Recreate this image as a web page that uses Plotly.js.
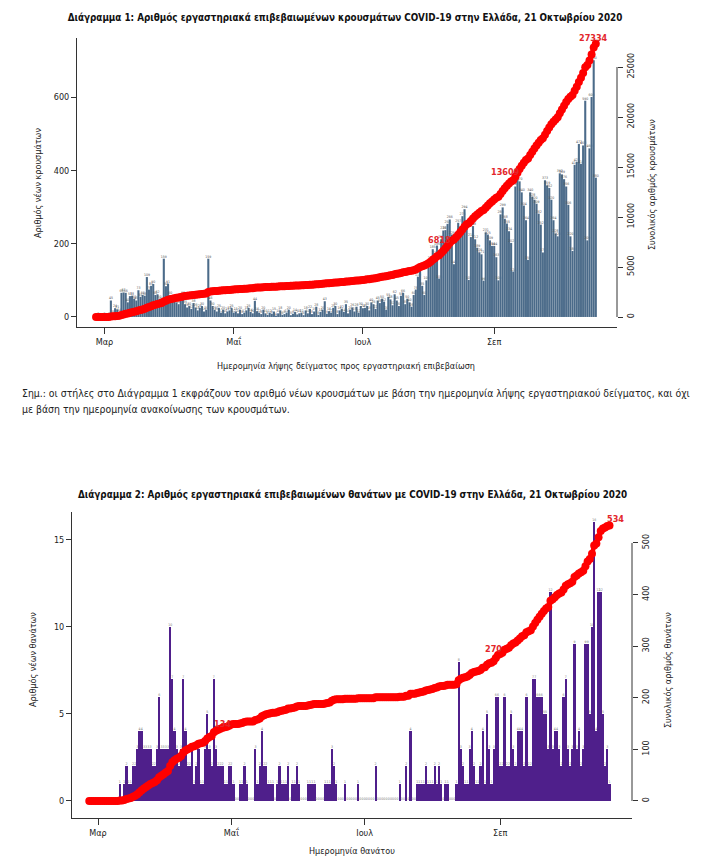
<!DOCTYPE html>
<html>
<head>
<meta charset="utf-8">
<script src="https://cdn.plot.ly/plotly-3.0.1.min.js"></script>
<style>
html,body{margin:0;padding:0;background:#fff;}
#chart{width:723px;height:867px;}
</style>
</head>
<body>
<div id="chart"></div>
<script>
// ---------------- DATA ----------------
// Daily values start on 26 Feb 2020 (one value per day)
const startDay = '2020-02-26';

// Diagram 1: new laboratory-confirmed cases by sample date (26 Feb – 19 Oct)
const newCases = [
  1,2,1,0,2,1,3, 45, 8,24,21,14, 66,67,66,40,57,58, 50,45,73,55,60,58, 109,75, 85,90,60,62,50,44, 159,84,91,60,
  50,42,40,35,45,60,35,26,30,22,38,26,18,25,30,15,20, 159, 45,30,20,15,25,12,20,10,15,18,25,12,
  15,10,20,8,12,18,25,14,10,44,16,12,8,20,10,6,12,9,15,4,10,18,6,8,12,20,5,9,14,7,10,
  12,5,18,10,22,8,15,28,6,14,20,43,9,16,12,25,30,8,18,22,14,35,10,20,26,15,28,12,30,24,
  25,30,18,40,35,22,45,38,50,42,20,55,48,32,62,45,30,58,66,35,50,40,28,60,75,110,126,85,60,100,
  135,155,185,170,195,105,212,236,237,254,266,225,144,212,257,236,275,294,252,101,218,248,212,189,176,171,99,231,225,209,194,
  194,163,100,280,299,268,255,234,202,124,356,389,370,340,304,264,156,340,328,320,309,282,252,176,373,359,352,320,264,228,
  220,392,389,376,356,306,220,180,415,423,472,418,468,590,209,460,600,700,380
];

// Diagram 2: new laboratory-confirmed deaths by date of death (26 Feb – 21 Oct)
const newDeaths = [
  0,0,0,0,0,0,0,0,0,0,0,0,0,0,
  1,0,1,2,1,1,2,2,3,
  4,4,3,3,3,3,2,2,3,
  6,3,3,3,
  3,10,7,4,3,2,3,7,4,2,2,3,1,2,3,1,1,3,5,3,2,
  7,
  3,2,2,2,1,1,2,2,1,0,0,1,1,2,1,0,0,0,3,
  1,2,4,2,2,1,1,1,0,1, 2,1,1,1,2,0,1,1,2,1, 0,0,0,1,1,1,1,0,0,0, 0,1,1,1,3,2,1,0,0,0, 1,0,0,0,0,0,1,0,0,
  0,0,0,0,0,2,0,0,0,0, 0,0,0,0,0,0,1,0,0,2, 0,4,0,0,1,1,1,1,2,1, 1,
  1,2,1,2,1,0,1,1,0,0,0,1,
  8,3,2,1,1,3,4,2,1,1,2,4,1,5,3,1,3,6,
  6,2,2,6,2,2,5,3,2,4,4,4,2,6,2,2,7,7,6,6,6,5,5,3,
  12,3,4,4,3,2,6,7,3,2,3,9,3,4,2,3,9,9,5,10,
  16,4,12,12,5,2,3,1
];

// Axis tick labels
const monthTickDates = ['2020-03-01','2020-05-01','2020-07-01','2020-09-01'];
const monthTickText  = ['Μαρ','Μαΐ','Ιουλ','Σεπ'];
const casesLeftTicks  = [0,200,400,600];
const casesRightTicks = [0,5000,10000,15000,20000,25000];
const deathsLeftTicks  = [0,5,10,15];
const deathsRightTicks = [0,100,200,300,400,500];

// Highlighted cumulative values (labels on the red curves)
const casesMarks  = [{day:'2020-08-09', label:'6818'}, {day:'2020-09-09', label:'13609'}, {day:'2020-10-18', label:'27334'}];
const deathsMarks = [{day:'2020-04-24', label:'134'}, {day:'2020-08-30', label:'270'}, {day:'2020-10-20', label:'534'}];

// ---------------- HELPERS ----------------
function dayList(start, n){
  const t0 = Date.parse(start + 'T00:00:00Z');
  const out = [];
  for (let i = 0; i < n; i++) out.push(new Date(t0 + i*86400000).toISOString().slice(0,10));
  return out;
}
function cumsum(a){ let s = 0; return a.map(v => (s += v)); }

const casesDays  = dayList(startDay, newCases.length);
const deathsDays = dayList(startDay, newDeaths.length);
const casesCum  = cumsum(newCases);
const deathsCum = cumsum(newDeaths);

// ---------------- LAYOUT GEOMETRY (pixels of the 723x867 page) ----------------
const W = 723, H = 867;
const px = v => v / W;
const py = v => 1 - v / H;
const FONT = '"Liberation Sans Narrow", "DejaVu Sans Condensed", Roboto, sans-serif';
const tickFont = {family: FONT, size: 9, color: '#222'};
function shiftDay(d, k){ return new Date(Date.parse(d + 'T00:00:00Z') + k*86400000).toISOString().replace('T',' ').slice(0,19); }

const traces = [
  {
    type:'bar', x: casesDays, y: newCases, xaxis:'x', yaxis:'y',
    marker:{color:'#4a6a89', line:{color:'rgba(255,255,255,0.3)', width:0.2}},
    text: newCases.map(String), textposition:'outside', textangle:0, constraintext:'none', cliponaxis:false,
    textfont:{family: FONT, size:3.5, color:'#555'}, hoverinfo:'x+y'
  },
  {
    type:'scatter', mode:'lines+markers', x: casesDays, y: casesCum, xaxis:'x', yaxis:'y2',
    line:{color:'#ff0000', width:4.5}, marker:{color:'#ff0000', size:8}, hoverinfo:'x+y'
  },
  {
    type:'bar', x: deathsDays, y: newDeaths, xaxis:'x2', yaxis:'y3',
    marker:{color:'#4f1f8b', line:{width:0}},
    text: newDeaths.map(String), textposition:'outside', textangle:0, constraintext:'none', cliponaxis:false,
    textfont:{family: FONT, size:3.5, color:'#777'}, hoverinfo:'x+y'
  },
  {
    type:'scatter', mode:'lines+markers', x: deathsDays, y: deathsCum, xaxis:'x2', yaxis:'y4',
    line:{color:'#ff0000', width:4.5}, marker:{color:'#ff0000', size:8}, hoverinfo:'x+y'
  }
];

function cumAt(days, cum, d){ const i = days.indexOf(d); return i >= 0 ? cum[i] : cum[cum.length-1]; }

const annotations = [];
casesMarks.forEach((m, k) => {
  const yoff = [-8, -9, -9][k];
  const xoff = [-6, -6, 0][k];
  annotations.push({xref:'x', yref:'y2', x:m.day, y:cumAt(casesDays, casesCum, m.day), text:'<b>'+m.label+'</b>',
    showarrow:true, arrowcolor:'rgba(0,0,0,0)', ax:xoff, ay:yoff, font:{family:FONT, size:9, color:'#e3262b'}});
});
deathsMarks.forEach((m, k) => {
  const yoff = [-7, -9, -7][k];
  const xoff = [6, -2, 8][k];
  annotations.push({xref:'x2', yref:'y4', x:m.day, y:cumAt(deathsDays, deathsCum, m.day), text:'<b>'+m.label+'</b>',
    showarrow:true, arrowcolor:'rgba(0,0,0,0)', ax:xoff, ay:yoff, font:{family:FONT, size:9, color:'#e3262b'}});
});

const txt = (text, x, y, opts={}) => Object.assign({xref:'paper', yref:'paper', x:px(x), y:py(y), text,
  showarrow:false, xanchor:'center', yanchor:'middle', font:{family:FONT, size:9, color:'#222'}}, opts);

annotations.push(
  txt('<b>Διάγραμμα 2: Αριθμός εργαστηριακά επιβεβαιωμένων θανάτων με COVID-19 στην Ελλάδα, 21 Οκτωβρίου 2020</b>', 352, 494, {font:{family:FONT, size:9.8, color:'#111'}}),
  txt('Αριθμός νέων κρουσμάτων', 38, 183, {textangle:-90}),
  txt('Συνολικός αριθμός κρουσμάτων', 652, 185, {textangle:-90}),
  txt('Ημερομηνία λήψης δείγματος προς εργαστηριακή επιβεβαίωση', 346, 366),
  txt('Σημ.: οι στήλες στο Διάγραμμα 1 εκφράζουν τον αριθμό νέων κρουσμάτων με βάση την ημερομηνία λήψης εργαστηριακού δείγματος, και όχι', 20, 393, {xanchor:'left', font:{family:FONT, size:10.4, color:'#222'}}),
  txt('με βάση την ημερομηνία ανακοίνωσης των κρουσμάτων.', 20, 409, {xanchor:'left', font:{family:FONT, size:10.4, color:'#222'}}),
  txt('Αριθμός νέων θανάτων', 33, 660, {textangle:-90}),
  txt('Συνολικός αριθμός θανάτων', 668, 670, {textangle:-90}),
  txt('Ημερομηνία θανάτου', 352, 851)
);

const shapes = [
  {type:'line', xref:'paper', yref:'y2', x0:px(617), x1:px(617), y0:0, y1:25000, line:{color:'#333', width:1}},
  {type:'line', xref:'paper', yref:'y4', x0:px(632), x1:px(632), y0:0, y1:500, line:{color:'#333', width:1}}
];

const xCommon = {
  type:'date', tickvals: monthTickDates, ticktext: monthTickText, ticks:'outside', ticklen:6, tickcolor:'#333',
  showline:true, linecolor:'#333', linewidth:1, showgrid:false, zeroline:false, tickfont: tickFont, fixedrange:true
};
const yCommon = {ticks:'outside', ticklen:5, tickcolor:'#333', showgrid:false, zeroline:false, tickfont: tickFont, fixedrange:true};

const layout = {
  width: W, height: H,
  margin:{l:0, r:0, t:0, b:0},
  paper_bgcolor:'#fff', plot_bgcolor:'#fff',
  showlegend:false, bargap:0,
  title:{text:'<b>Διάγραμμα 1: Αριθμός εργαστηριακά επιβεβαιωμένων κρουσμάτων COVID-19 στην Ελλάδα, 21 Οκτωβρίου 2020</b>',
    x:px(345), y:py(18), xanchor:'center', yanchor:'middle', xref:'paper', yref:'paper', font:{family:FONT, size:9.8, color:'#111'}},
  xaxis: Object.assign({}, xCommon, {domain:[px(77), px(617)], anchor:'y',
    range:[shiftDay(startDay, -9.0), shiftDay(startDay, 246.0)]}),
  yaxis: Object.assign({}, yCommon, {domain:[py(327), py(38)], anchor:'x', range:[-27.3, 761],
    tickvals: casesLeftTicks, ticktext: casesLeftTicks.map(String), showline:true, linecolor:'#333', linewidth:1}),
  yaxis2: Object.assign({}, yCommon, {overlaying:'y', side:'right', anchor:'x', range:[-1000, 27900],
    tickvals: casesRightTicks, ticktext: casesRightTicks.map(String), tickangle:-90, showline:false}),
  xaxis2: Object.assign({}, xCommon, {domain:[px(72), px(632)], anchor:'y3',
    range:[shiftDay(startDay, -7.9), shiftDay(startDay, 248.3)]}),
  yaxis3: Object.assign({}, yCommon, {domain:[py(818), py(512)], anchor:'x2', range:[-0.98, 16.6],
    tickvals: deathsLeftTicks, ticktext: deathsLeftTicks.map(String), showline:true, linecolor:'#333', linewidth:1}),
  yaxis4: Object.assign({}, yCommon, {overlaying:'y3', side:'right', anchor:'x2', range:[-33, 560],
    tickvals: deathsRightTicks, ticktext: deathsRightTicks.map(String), tickangle:-90, showline:false}),
  annotations, shapes
};

Plotly.newPlot('chart', traces, layout, {displayModeBar:false, staticPlot:true});
</script>
</body>
</html>
